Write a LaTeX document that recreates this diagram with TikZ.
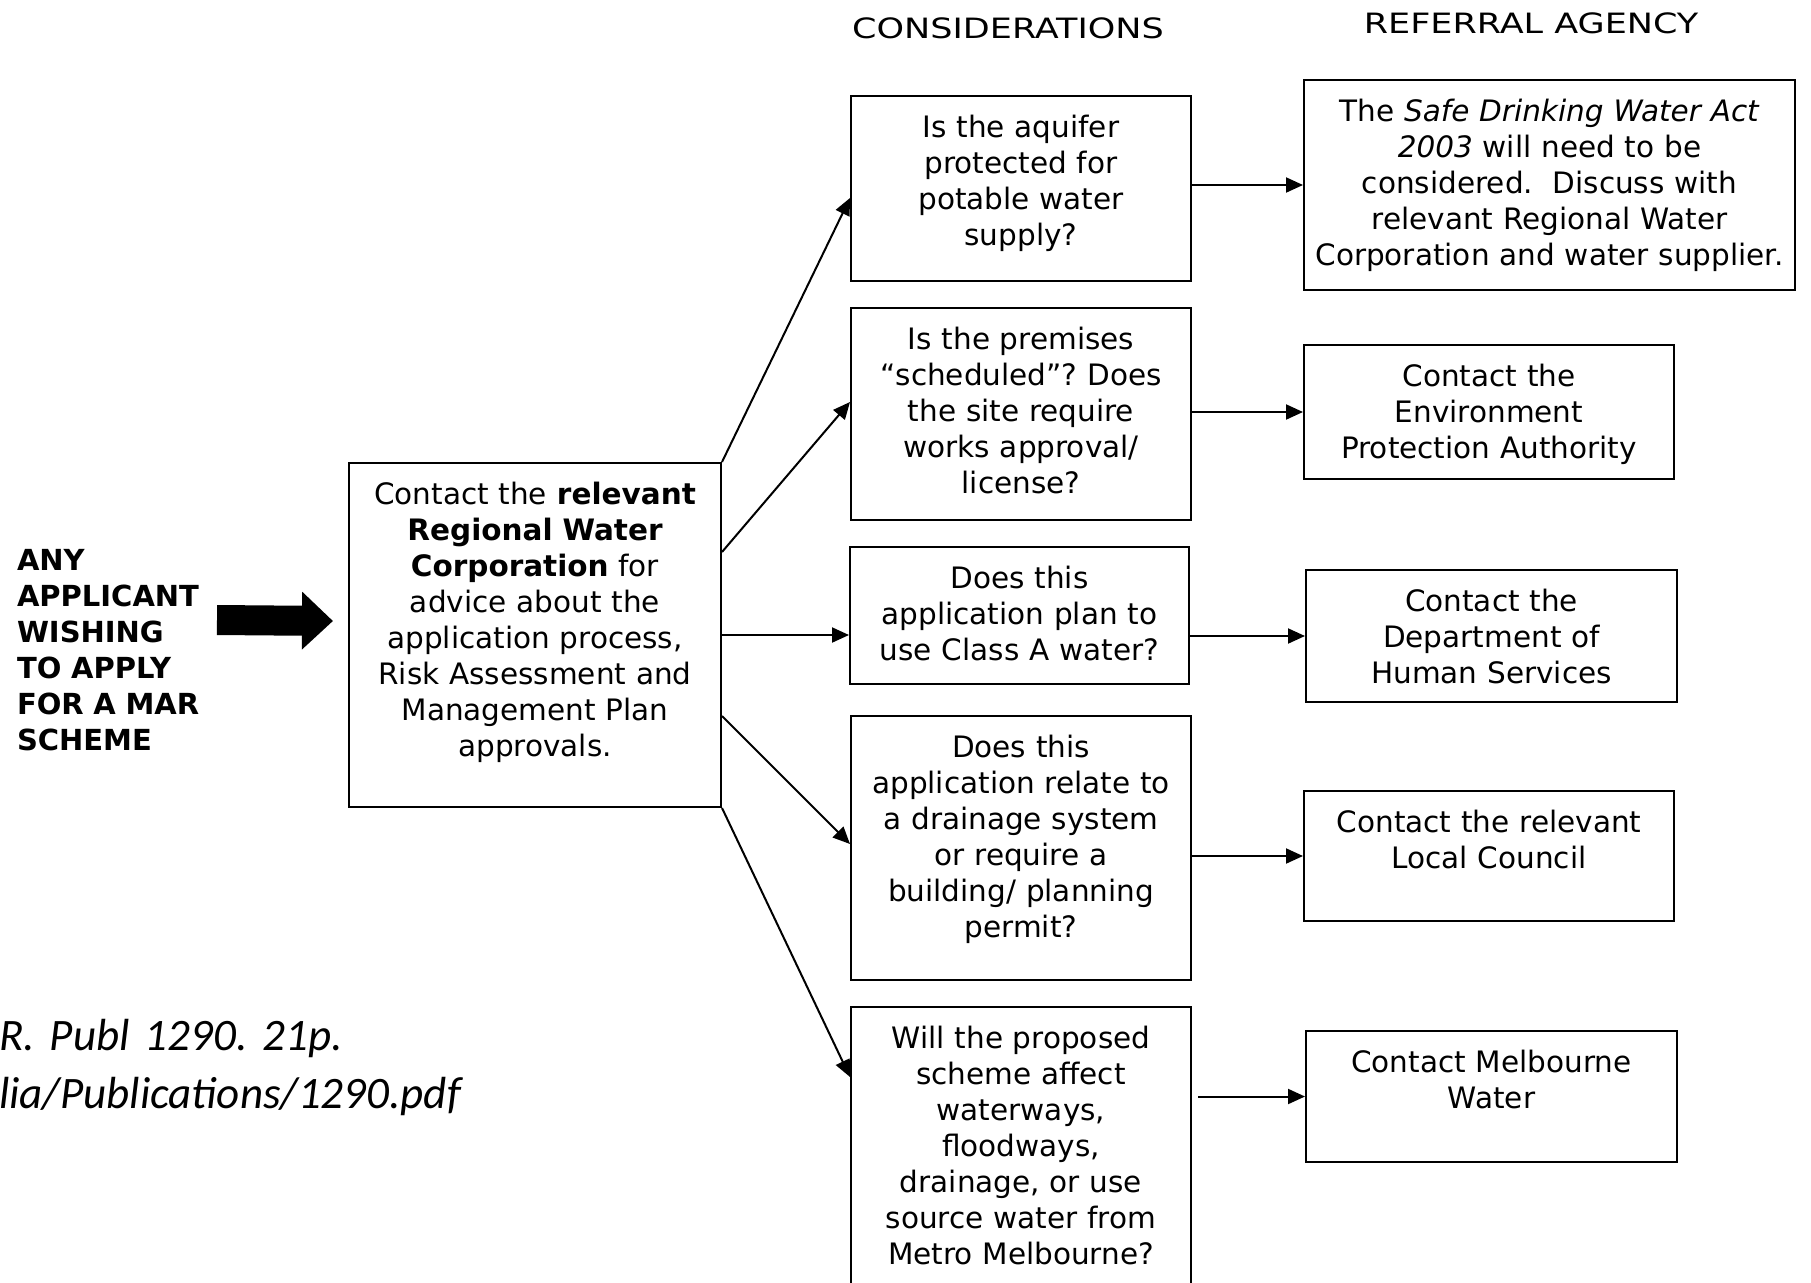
\documentclass[tikz,border=0pt]{standalone}
\usepackage{fontspec}
\setmainfont{DejaVu Sans}
\newfontfamily\headfont{DejaVu Sans}[FakeStretch=1.25]
\newfontfamily\notefont{Carlito}
\usetikzlibrary{arrows.meta}
\frenchspacing

\begin{document}
\begin{tikzpicture}[x=1pt,y=-1pt,line width=2pt,>={Triangle[length=17pt,width=15pt]},
    box/.style={draw,anchor=north west,align=center,inner xsep=0pt,inner ysep=17pt,
                text height=24pt,font=\fontsize{29.5}{36}\selectfont},
    head/.style={anchor=base,inner sep=0pt,font=\headfont\fontsize{28}{32}\selectfont},
    bigarrow/.style={line width=30pt,-{Triangle[length=31pt,width=56pt]}}]

  \useasboundingbox (0,0) rectangle (1811,1282);
  \clip (0,0) rectangle (1811,1282);

  \node[head] (hcons) at (1008,38) {CONSIDERATIONS};
  \node[head] (hagency) at (1531,33) {REFERRAL AGENCY};

  \node[anchor=base west,text width=200pt,align=left,inner sep=0pt,
        font=\bfseries\fontsize{29}{36}\selectfont] (applicant) at (16,570)
    {ANY\\ APPLICANT\\ WISHING\\ TO APPLY\\ FOR A MAR\\ SCHEME};

  \node[box,text width=372pt,text depth=286pt] (main) at (348,462)
    {Contact the \textbf{relevant}\\ \textbf{Regional Water}\\ \textbf{Corporation} for\\
     advice about the\\ application process,\\ Risk Assessment and\\ Management Plan\\ approvals.};

  % considerations
  \node[box,text width=340pt,text depth=127pt] (c1) at (850,95)
    {Is the aquifer\\ protected for\\ potable water\\ supply?};
  \node[box,text width=340pt,text depth=154pt] (c2) at (850,307)
    {Is the premises\\ “scheduled”? Does\\ the site require\\ works approval/\\ license?};
  \node[box,text width=339pt,text depth=79pt] (c3) at (849,546)
    {Does this\\ application plan to\\ use Class A water?};
  \node[box,text width=340pt,text depth=206pt] (c4) at (850,715)
    {Does this\\ application relate to\\ a drainage system\\ or require a\\ building/ planning\\ permit?};
  \node[box,text width=340pt,text depth=236pt] (c5) at (850,1006)
    {Will the proposed\\ scheme affect\\ waterways,\\ floodways,\\ drainage, or use\\ source water from\\ Metro Melbourne?};

  % referral agencies
  \node[box,text width=491pt,text depth=152pt] (r1) at (1303,79)
    {The \textit{Safe Drinking Water Act}\\ \textit{2003} will need to be\\ considered.~ Discuss with\\
     relevant Regional Water\\ Corporation and water supplier.};
  \node[box,text width=370pt,text depth=76pt] (r2) at (1303,344)
    {Contact the\\ Environment\\ Protection Authority};
  \node[box,text width=371pt,text depth=74pt] (r3) at (1305,569)
    {Contact the\\ Department of\\ Human Services};
  \node[box,text width=370pt,text depth=72pt] (r4) at (1303,790)
    {Contact the relevant\\ Local Council};
  \node[box,text width=371pt,text depth=73pt] (r5) at (1305,1030)
    {Contact Melbourne\\ Water};

  \coordinate (arrowtail) at (217,620);
  \draw[bigarrow] (arrowtail) -- ([xshift=-15pt,yshift=14pt]main.west);

  \path[->]
    (main.north east) edge ([yshift=-103pt]c1.north west)
    ([yshift=83pt]main.east) edge ([yshift=12pt]c2.west)
    (main.east) edge (main.east -| c3.west)
    ([yshift=-81pt]main.east) edge ([yshift=4pt]c4.west)
    (main.south east) edge ([yshift=-71pt]c5.north west);

  \path[->]
    (c1.east |- r1.west) edge (r1.west)
    (c2.east |- r2.west) edge (r2.west)
    (c3.east |- r3.west) edge (r3.west)
    (c4.east |- r4.west) edge (r4.west)
    ([xshift=6pt]c5.east |- r5.west) edge (r5.west);

  \node[anchor=base west,text width=520pt,align=left,inner sep=0pt,
        font=\notefont\itshape\fontsize{45}{58}\selectfont] (note) at (-2,1050)
    {R. Publ 1290. 21p.\\ lia/Publications/1290.pdf};
\end{tikzpicture}
\end{document}
